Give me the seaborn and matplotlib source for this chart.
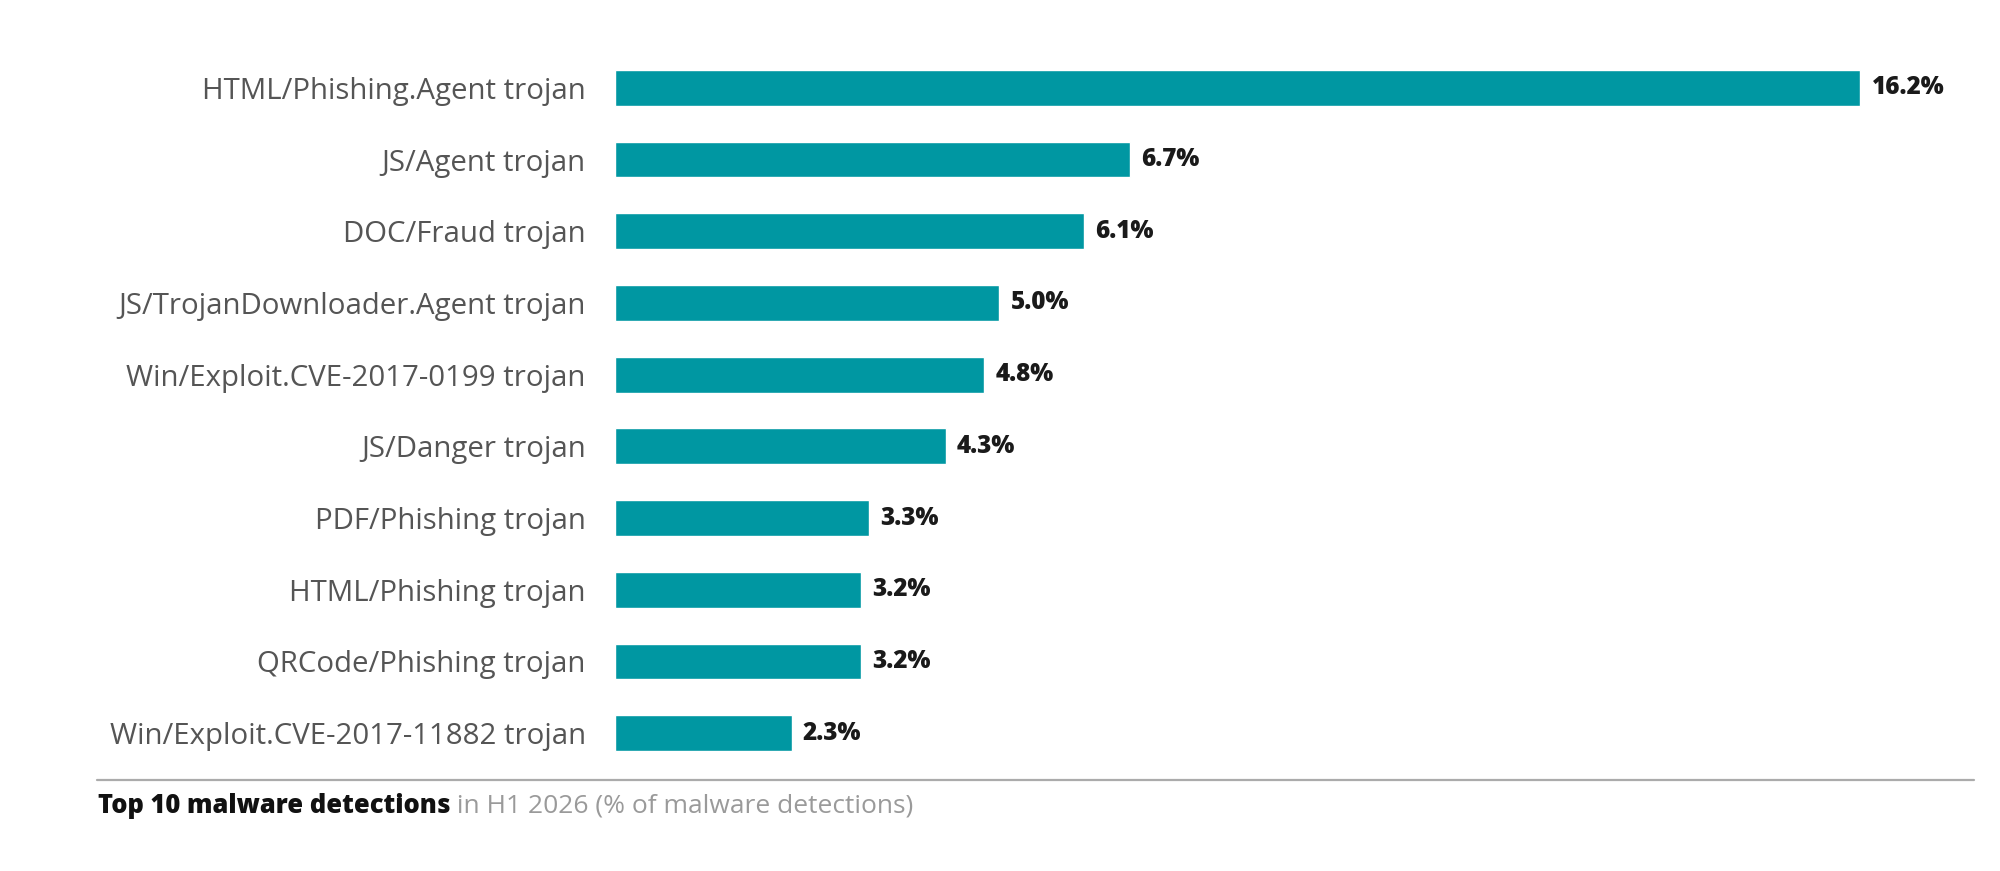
import pandas as pd
import seaborn as sns
import matplotlib.pyplot as plt
from matplotlib.lines import Line2D

sns.set_theme(style="white")
plt.rcParams['font.family'] = ['Open Sans', 'DejaVu Sans']

categories = [
    "HTML/Phishing.Agent trojan",
    "JS/Agent trojan",
    "DOC/Fraud trojan",
    "JS/TrojanDownloader.Agent trojan",
    "Win/Exploit.CVE-2017-0199 trojan",
    "JS/Danger trojan",
    "PDF/Phishing trojan",
    "HTML/Phishing trojan",
    "QRCode/Phishing trojan",
    "Win/Exploit.CVE-2017-11882 trojan",
]
shares = [16.2, 6.7, 6.1, 5.0, 4.8, 4.3, 3.3, 3.2, 3.2, 2.3]

caption_bold = "Top 10 malware detections"
caption_rest = " in H1 2026 (% of malware detections)"

df = pd.DataFrame({"detection": categories, "share": shares})

fig = plt.figure(figsize=(20, 8.71), dpi=100)
ax = fig.add_axes([0.3075, 0.1171, 0.68, 0.8232])

sns.barplot(data=df, x="share", y="detection", orient="h", color="#0097A2",
            saturation=1, width=0.5, ax=ax)

ax.set_xlim(0, 17.69)
ax.set_ylim(9.5, -0.5)
ax.set_xlabel("")
ax.set_ylabel("")
ax.set_xticks([])
sns.despine(ax=ax, left=True, bottom=True)
ax.tick_params(axis="y", length=0, pad=21, labelsize=21.2, labelcolor="#555555")

ax.bar_label(ax.containers[0], labels=[f"{v:.1f}%" for v in shares],
             padding=8, fontsize=17.5, fontweight="heavy", color="#1a1a1a")

# rule under the chart
fig.add_artist(Line2D([0.0485, 0.987], [0.1045, 0.1045], transform=fig.transFigure,
                      color="#ababab", linewidth=1.6))

# caption: bold part followed by grey part
t1 = fig.text(0.049, 0.0666, caption_bold, fontsize=18.4, fontweight="heavy",
              color="#111111", ha="left", va="baseline")
fig.canvas.draw()
bb = t1.get_window_extent(renderer=fig.canvas.get_renderer())
x_next = fig.transFigure.inverted().transform((bb.x1, bb.y0))[0]
fig.text(x_next, 0.0666, caption_rest, fontsize=19, color="#9a9a9a",
         ha="left", va="baseline")

plt.savefig("out.png", dpi=100)
